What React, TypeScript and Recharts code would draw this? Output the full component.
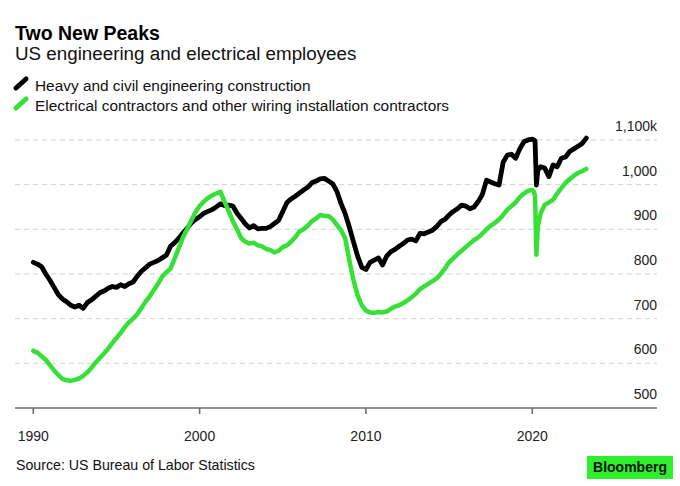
import React from "react";
import { LineChart, Line, XAxis, YAxis, CartesianGrid } from "recharts";

const times: number[] = [
  1990, 1990.25, 1990.5, 1990.75, 1991, 1991.25, 1991.5, 1991.75,
  1992, 1992.25, 1992.5, 1992.75, 1993, 1993.25, 1993.5, 1993.75,
  1994, 1994.25, 1994.5, 1994.75, 1995, 1995.25, 1995.5, 1995.75,
  1996, 1996.25, 1996.5, 1996.75, 1997, 1997.25, 1997.5, 1997.75,
  1998, 1998.25, 1998.5, 1998.75, 1999, 1999.25, 1999.5, 1999.75,
  2000, 2000.25, 2000.5, 2000.75, 2001, 2001.25, 2001.5, 2001.75,
  2002, 2002.25, 2002.5, 2002.75, 2003, 2003.25, 2003.5, 2003.75,
  2004, 2004.25, 2004.5, 2004.75, 2005, 2005.25, 2005.5, 2005.75,
  2006, 2006.25, 2006.5, 2006.75, 2007, 2007.25, 2007.5, 2007.75,
  2008, 2008.25, 2008.5, 2008.75, 2009, 2009.25, 2009.5, 2009.75,
  2010, 2010.25, 2010.5, 2010.75, 2011, 2011.25, 2011.5, 2011.75,
  2012, 2012.25, 2012.5, 2012.75, 2013, 2013.25, 2013.5, 2013.75,
  2014, 2014.25, 2014.5, 2014.75, 2015, 2015.25, 2015.5, 2015.75,
  2016, 2016.25, 2016.5, 2016.75, 2017, 2017.25, 2017.5, 2017.75,
  2018, 2018.25, 2018.5, 2018.75, 2019, 2019.25, 2019.5, 2019.75,
  2020, 2020.083, 2020.167, 2020.25, 2020.333, 2020.5, 2020.75,
  2021, 2021.25, 2021.5, 2021.75, 2022, 2022.25, 2022.5, 2022.75,
  2023, 2023.25,
];

// Heavy and civil engineering construction (thousands)
const heavyCivil: number[] = [
  826, 822, 816, 800, 786, 770, 754, 744,
  738, 730, 726, 730, 723, 736, 742, 750,
  758, 762, 768, 772, 770, 776, 772, 778,
  782, 795, 806, 814, 822, 826, 830, 836,
  842, 862, 870, 880, 892, 902, 914, 922,
  928, 936, 940, 944, 950, 957, 953, 954,
  952, 936, 924, 912, 903, 908, 901, 902,
  902, 906, 913, 920, 940, 960, 968, 974,
  981, 988, 994, 1004, 1008, 1013, 1014, 1008,
  1002, 985, 958, 935, 905, 872, 840, 815,
  810, 826, 831, 836, 820, 840, 850, 855,
  862, 868, 876, 878, 874, 891, 890, 894,
  898, 906, 917, 922, 932, 940, 946, 954,
  952, 946, 950, 962, 978, 1010, 1006, 1002,
  999, 1050, 1066, 1068, 1059, 1080, 1096, 1100,
  1102, 1100, 1098, 999, 1032, 1040, 1037,
  1018, 1044, 1040, 1059, 1062, 1074, 1080, 1086,
  1092, 1104,
];

// Electrical contractors and other wiring installation contractors (thousands)
const electrical: number[] = [
  628, 624, 616, 608, 596, 584, 574, 565,
  562, 561, 563, 566, 572, 580, 590, 602,
  612, 622, 633, 645, 657, 668, 681, 692,
  700, 710, 724, 738, 750, 764, 778, 794,
  804, 812, 835, 858, 882, 900, 920, 938,
  952, 962, 970, 976, 980, 984, 962, 940,
  918, 900, 880, 872, 868, 870, 864, 862,
  856, 854, 848, 852, 860, 864, 872, 882,
  895, 900, 908, 918, 924, 932, 930, 930,
  922, 910, 898, 880, 831, 786, 752, 730,
  718, 714, 713, 715, 714, 716, 722, 727,
  730, 735, 741, 748, 756, 766, 772, 778,
  784, 790, 800, 812, 826, 835, 844, 852,
  860, 868, 876, 882, 890, 900, 908, 914,
  922, 932, 944, 952, 960, 972, 980, 986,
  988, 985, 975, 843, 905, 935, 955,
  960, 966, 980, 992, 1004, 1012, 1020, 1026,
  1030, 1035,
];

const xTicks = [1990, 2000, 2010, 2020];
const yTicks = [500, 600, 700, 800, 900, 1000, 1100];
const gridValues = [600, 700, 800, 900, 1000, 1100];
const yLabels: Record<number, string> = {
  500: "500",
  600: "600",
  700: "700",
  800: "800",
  900: "900",
  1000: "1,000",
  1100: "1,100k",
};

const seriesNames = [
  "Heavy and civil engineering construction",
  "Electrical contractors and other wiring installation contractors",
];

const data = times.map((t, i) => ({
  t,
  heavy: heavyCivil[i],
  elec: electrical[i],
}));

const FONT = '"Liberation Sans", Arial, Helvetica, sans-serif';
const GREEN = "#36e036";
const BOX_GREEN = "#2cf02c";
const PLOT_RIGHT = 657;

const renderYTick = (props: any) => {
  const { y, payload } = props;
  return (
    <text
      key={`yt-${payload.value}`}
      x={PLOT_RIGHT}
      y={y - 14}
      textAnchor="end"
      dominantBaseline="central"
      fontSize={14}
      fill="#222"
      fontFamily={FONT}
    >
      {yLabels[payload.value] ?? String(payload.value)}
    </text>
  );
};

export default function App() {
  return (
    <div
      style={{
        position: "absolute",
        left: 0,
        top: 0,
        width: 680,
        height: 486,
        background: "#fff",
        fontFamily: FONT,
        color: "#111",
      }}
    >
      <LineChart
        width={680}
        height={486}
        data={data}
        margin={{ top: 131, right: 23, bottom: 48, left: 15 }}
        style={{ position: "absolute", left: 0, top: 0 }}
      >
        <CartesianGrid
          horizontal
          vertical={false}
          horizontalValues={gridValues}
          stroke="#d2d2d2"
          strokeDasharray="5 4"
        />
        <XAxis
          dataKey="t"
          type="number"
          domain={[1988.9, 2027.5]}
          ticks={xTicks}
          height={30}
          tickSize={6}
          tickMargin={17}
          stroke="#6e6e6e"
          strokeWidth={1.6}
          tick={{ fill: "#222", fontSize: 14, fontFamily: FONT }}
          allowDataOverflow
        />
        <YAxis
          orientation="right"
          mirror
          width={1}
          domain={[500, 1120]}
          ticks={yTicks}
          tickSize={0}
          tickMargin={0}
          axisLine={false}
          tickLine={false}
          tick={renderYTick}
          interval={0}
          allowDataOverflow
        />
        <Line
          dataKey="heavy"
          type="linear"
          stroke="#000"
          strokeWidth={4.8}
          dot={false}
          isAnimationActive={false}
          strokeLinejoin="round"
          strokeLinecap="round"
        />
        <Line
          dataKey="elec"
          type="linear"
          stroke={GREEN}
          strokeWidth={4.5}
          dot={false}
          isAnimationActive={false}
          strokeLinejoin="round"
          strokeLinecap="round"
        />
      </LineChart>

      <div
        style={{
          position: "absolute",
          left: 15,
          top: 22,
          fontSize: 19.5,
          fontWeight: 700,
          lineHeight: "22px",
          color: "#000",
        }}
      >
        Two New Peaks
      </div>
      <div
        style={{
          position: "absolute",
          left: 15,
          top: 43,
          fontSize: 18.8,
          lineHeight: "22px",
          color: "#111",
        }}
      >
        US engineering and electrical employees
      </div>

      <svg
        width={20}
        height={40}
        style={{ position: "absolute", left: 12, top: 74 }}
      >
        <line x1={4} y1={14} x2={14} y2={5} stroke="#000" strokeWidth={5} strokeLinecap="round" />
        <line x1={4} y1={34} x2={14} y2={25} stroke={GREEN} strokeWidth={5} strokeLinecap="round" />
      </svg>
      <div
        style={{
          position: "absolute",
          left: 35,
          top: 77,
          fontSize: 15.4,
          lineHeight: "18px",
          color: "#111",
        }}
      >
        {seriesNames[0]}
      </div>
      <div
        style={{
          position: "absolute",
          left: 35,
          top: 97,
          fontSize: 15.4,
          lineHeight: "18px",
          color: "#111",
        }}
      >
        {seriesNames[1]}
      </div>

      <div
        style={{
          position: "absolute",
          left: 16,
          top: 457,
          fontSize: 14.2,
          lineHeight: "17px",
          color: "#111",
        }}
      >
        Source: US Bureau of Labor Statistics
      </div>
      <div
        style={{
          position: "absolute",
          left: 587,
          top: 456,
          width: 86,
          height: 23,
          background: BOX_GREEN,
          color: "#111",
          fontSize: 14,
          fontWeight: 700,
          lineHeight: "23px",
          textAlign: "center",
        }}
      >
        Bloomberg
      </div>
    </div>
  );
}
